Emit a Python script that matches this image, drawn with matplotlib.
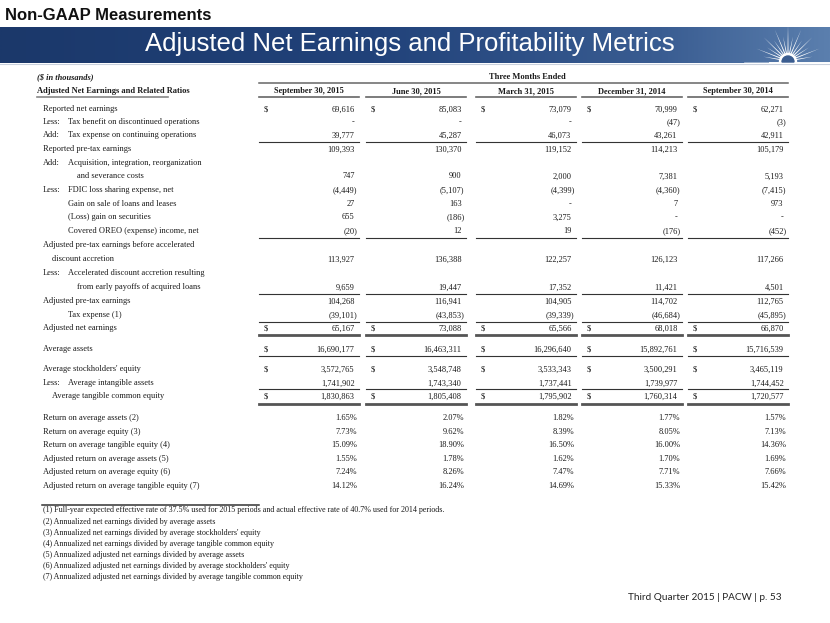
import numpy as np
import matplotlib.pyplot as plt
from matplotlib import font_manager
from matplotlib.colors import LinearSegmentedColormap
from matplotlib.patches import Polygon, Wedge

# --- data ---------------------------------------------------------------
periods = ["September 30, 2015", "June 30, 2015", "March 31, 2015",
           "December 31, 2014", "September 30, 2014"]

reported_net = [69616, 85083, 73079, 70999, 62271]
tax_benefit_disc = [None, None, None, -47, -3]
tax_expense_cont = [39777, 45287, 46073, 43261, 42911]
reported_pretax = [109393, 130370, 119152, 114213, 105179]
acq_costs = [747, 900, 2000, 7381, 5193]
fdic_loss = [-4449, -5107, -4399, -4360, -7415]
gain_loans = [27, 163, None, 7, 973]
gain_securities = [655, -186, 3275, None, None]
oreo = [-20, 12, 19, -176, -452]
adj_pretax_before = [113927, 136388, 122257, 126123, 117266]
accel_accretion = [9659, 19447, 17352, 11421, 4501]
adj_pretax = [104268, 116941, 104905, 114702, 112765]
tax_expense_adj = [-39101, -43853, -39339, -46684, -45895]
adj_net = [65167, 73088, 65566, 68018, 66870]
avg_assets = [16690177, 16463311, 16296640, 15892761, 15716539]
avg_equity = [3572765, 3548748, 3533343, 3500291, 3465119]
avg_intangible = [1741902, 1743340, 1737441, 1739977, 1744452]
avg_tangible = [1830863, 1805408, 1795902, 1760314, 1720577]

roa = [1.65, 2.07, 1.82, 1.77, 1.57]
roe = [7.73, 9.62, 8.39, 8.05, 7.13]
rote = [15.09, 18.90, 16.50, 16.00, 14.36]
adj_roa = [1.55, 1.78, 1.62, 1.70, 1.69]
adj_roe = [7.24, 8.26, 7.47, 7.71, 7.66]
adj_rote = [14.12, 16.24, 14.69, 15.33, 15.42]

# (prefix, label, values, dollar sign)
rows = [
    ("", "Reported net earnings", reported_net, True),
    ("Less:", "Tax benefit on discontinued operations", tax_benefit_disc, False),
    ("Add:", "Tax expense on continuing operations", tax_expense_cont, False),
    ("", "Reported pre-tax earnings", reported_pretax, False),
    ("Add:", "Acquisition, integration, reorganization", None, False),
    ("", "and severance costs", acq_costs, False),
    ("Less:", "FDIC loss sharing expense, net", fdic_loss, False),
    ("", "Gain on sale of loans and leases", gain_loans, False),
    ("", "(Loss) gain on securities", gain_securities, False),
    ("", "Covered OREO (expense) income, net", oreo, False),
    ("", "Adjusted pre-tax earnings before accelerated", None, False),
    ("", "discount accretion", adj_pretax_before, False),
    ("Less:", "Accelerated discount accretion resulting", None, False),
    ("", "from early payoffs of acquired loans", accel_accretion, False),
    ("", "Adjusted pre-tax earnings", adj_pretax, False),
    ("", "Tax expense (1)", tax_expense_adj, False),
    ("", "Adjusted net earnings", adj_net, True),
    ("", "Average assets", avg_assets, True),
    ("", "Average stockholders' equity", avg_equity, True),
    ("Less:", "Average intangible assets", avg_intangible, False),
    ("", "Average tangible common equity", avg_tangible, True),
]

pct_labels = ["Return on average assets (2)", "Return on average equity (3)",
              "Return on average tangible equity (4)",
              "Adjusted return on average assets (5)",
              "Adjusted return on average equity (6)",
              "Adjusted return on average tangible equity (7)"]
pct_values = [roa, roe, rote, adj_roa, adj_roe, adj_rote]

footnotes = [
    "(1) Full-year expected effective rate of 37.5% used for 2015 periods and actual effective rate of 40.7% used for 2014 periods.",
    "(2) Annualized net earnings divided by average assets",
    "(3) Annualized net earnings divided by average stockholders' equity",
    "(4) Annualized net earnings divided by average tangible common equity",
    "(5) Annualized adjusted net earnings divided by average assets",
    "(6) Annualized adjusted net earnings divided by average stockholders' equity",
    "(7) Annualized adjusted net earnings divided by average tangible common equity",
]

# --- layout (pixels) ----------------------------------------------------
row_y = [109, 122, 135, 149, 163, 176, 190, 204, 217, 231, 245, 259, 273, 287,
         301, 315, 328, 349, 369, 383, 396]
row_indent = [43, 68, 68, 43, 68, 77, 68, 68, 68, 68, 43, 52, 68, 77,
              43, 68, 43, 43, 43, 68, 52]
pct_y = [418, 432, 445, 459, 472, 486]
col_x0 = [259, 366, 476, 582, 688]
col_x1 = [359, 466, 576, 682, 788]
thin_lines = [141.5, 238, 294, 321.5, 355.5, 389]
thick_lines = [335, 404]

names = {f.name for f in font_manager.fontManager.ttflist}
if "Liberation Sans Narrow" in names:
    narrow, title_size = "Liberation Sans Narrow", 21
else:
    narrow, title_size = "Liberation Sans", 18.5
serif = "Liberation Serif"
ink = "#1a1a1a"
fs = 6.0
dy = 2.4  # baseline offset from row centre


def fmt(v):
    if v is None:
        return "-"
    if v < 0:
        return "({:,})".format(-v)
    return "{:,}".format(v)


def cell(x, y, s, **kw):
    kw.setdefault("fontsize", fs)
    ax.text(x, y + dy, s, family=serif, va="baseline", color=ink, **kw)


fig = plt.figure(figsize=(8.3, 6.23), dpi=100)
ax = fig.add_axes([0, 0, 1, 1])
ax.axis("off")

# title + banner
ax.text(5, 15, "Non-GAAP Measurements", family="Liberation Sans", weight="bold",
        fontsize=12, va="center", ha="left", color="#111111")
cmap = LinearSegmentedColormap.from_list(
    "banner", [(0, "#1b386a"), (0.45, "#21427a"), (0.8, "#3a5d92"), (1, "#5b7fae")])
ax.imshow(np.linspace(0, 1, 500).reshape(1, -1), extent=[0, 830, 63, 27],
          aspect="auto", cmap=cmap, zorder=0)
ax.plot([0, 830], [64, 64], color="#c9d1dd", lw=0.8)
ax.text(410, 44, "Adjusted Net Earnings and Profitability Metrics", family=narrow,
        fontsize=title_size, color="white", ha="center", va="center")

# logo: sunburst
cx, cy = 788, 61
for i, a in enumerate(np.radians(np.linspace(10, 170, 15))):
    L = 34 if i % 2 == 1 else 25
    if i == 7:
        L = 36
    w = np.radians(7)
    pts = [(cx + 5 * np.cos(a - w), cy - 5 * np.sin(a - w)),
           (cx + L * np.cos(a), cy - L * np.sin(a)),
           (cx + 5 * np.cos(a + w), cy - 5 * np.sin(a + w))]
    ax.add_patch(Polygon(pts, closed=True, color="white", lw=0, zorder=3))
ax.add_patch(Wedge((cx, cy + 1), 8.5, 180, 360, color="white", zorder=4))
ax.add_patch(Wedge((cx, cy + 1), 6, 180, 360, color="#3b5d90", zorder=5))
ax.plot([770, 830], [62.5, 62.5], color="white", lw=1.4, zorder=4)
ax.plot([745, 770], [62.5, 62.5], color="white", lw=1.2, alpha=0.5, zorder=4)

# table header
cell(37, 77, "($ in thousands)", style="italic", weight="bold")
cell(527, 77, "Three Months Ended", weight="bold", ha="center")
ax.plot([col_x0[0], col_x1[-1]], [83, 83], color="#666666", lw=1.1)
cell(37, 91, "Adjusted Net Earnings and Related Ratios", weight="bold")
ax.plot([37, 168], [96.5, 96.5], color="#888888", lw=1.2)
for j, p in enumerate(periods):
    cell((col_x0[j] + col_x1[j]) / 2, 91, p, weight="bold", ha="center")
    ax.plot([col_x0[j], col_x1[j]], [97, 97], color="#666666", lw=1.2)

# table body
for (prefix, label, vals, dollar), y, ix in zip(rows, row_y, row_indent):
    if prefix:
        cell(43, y, prefix)
    cell(ix, y, label)
    if vals is None:
        continue
    for j, v in enumerate(vals):
        xr = col_x1[j] - (1.5 if (v is not None and v < 0) else 4.5)
        cell(xr, y, fmt(v), ha="right")
        if dollar:
            cell(col_x0[j] + 5, y, "$")

for y in thin_lines:
    for j in range(5):
        ax.plot([col_x0[j], col_x1[j]], [y, y], color="#333333", lw=0.8)
for y in thick_lines:
    for j in range(5):
        ax.plot([col_x0[j], col_x1[j]], [y, y], color="#555555", lw=2.0)

for label, vals, y in zip(pct_labels, pct_values, pct_y):
    cell(43, y, label)
    for j, v in enumerate(vals):
        cell(col_x1[j] - 2, y, "{:.2f}%".format(v), ha="right")

# footnotes
ax.plot([42, 259], [505, 505], color="#333333", lw=1.1)
for i, note in enumerate(footnotes):
    cell(43, 510 + i * 11.1, note, fontsize=5.8)

ax.text(781, 597, "Third Quarter 2015 | PACW | p. 53", family="Lato", fontsize=7.2,
        ha="right", va="center", color="#222222")

ax.set_xlim(0, 830)
ax.set_ylim(623, 0)
fig.savefig("out.png", dpi=100)
